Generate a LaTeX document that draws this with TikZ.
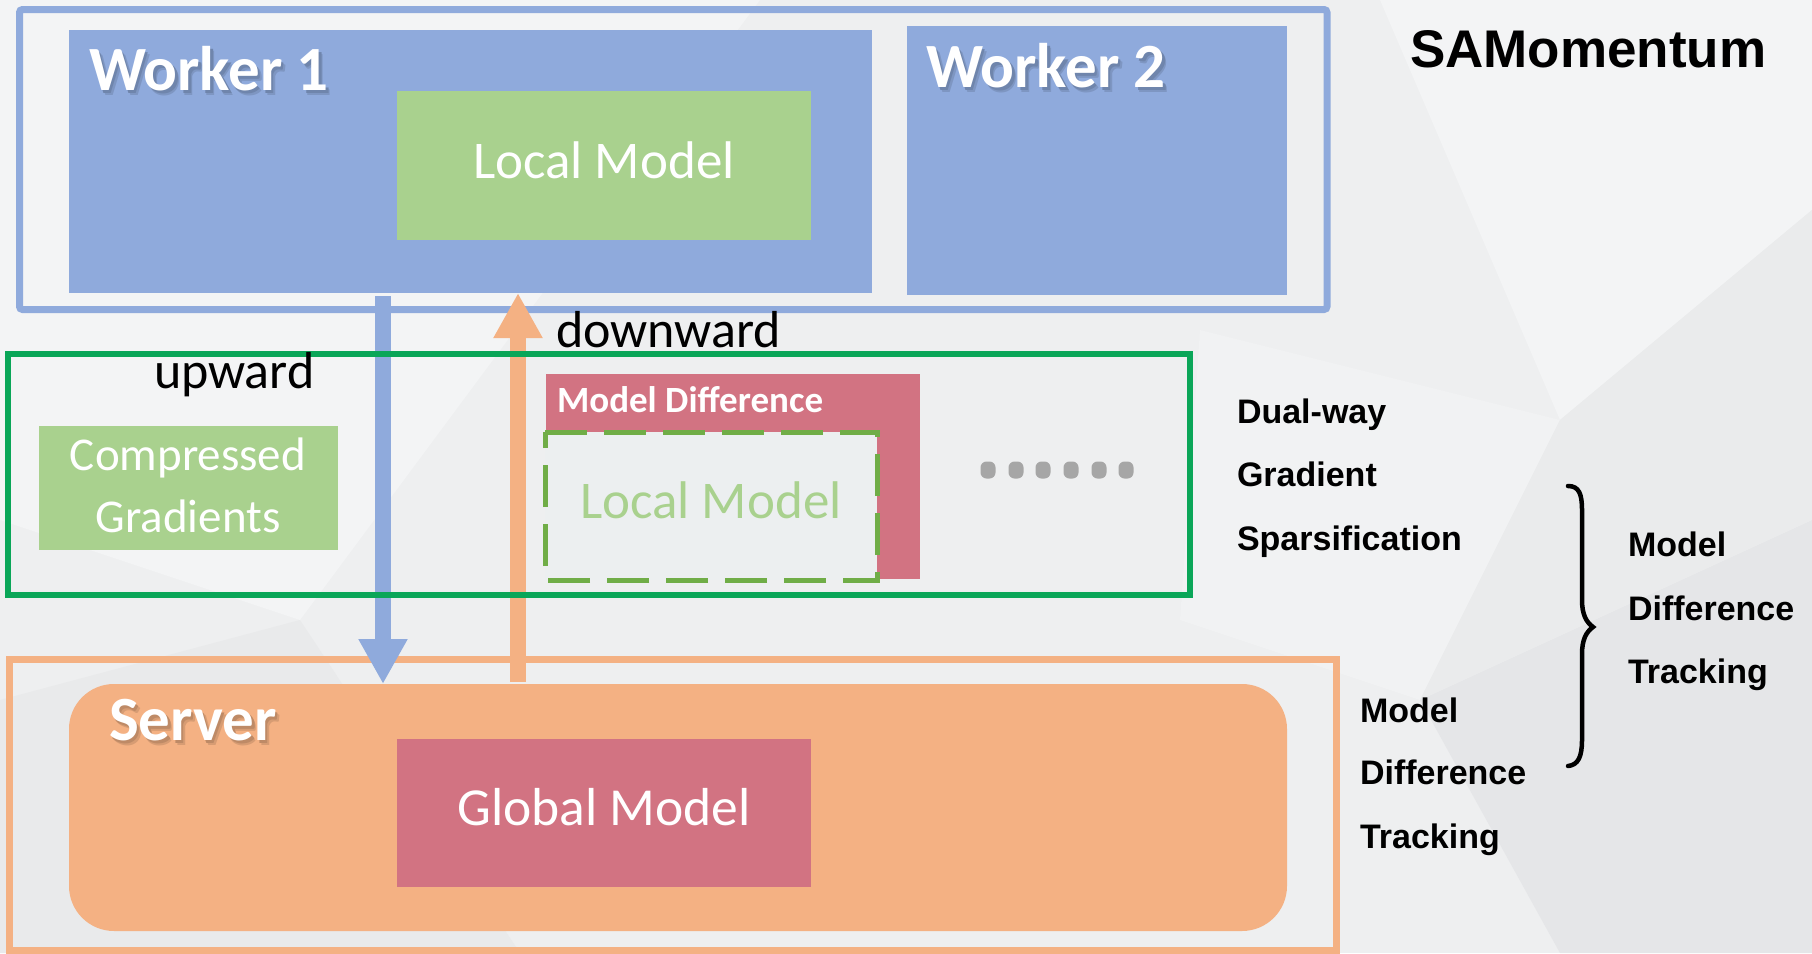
\documentclass[tikz,border=0pt]{standalone}
\usepackage{fontspec}
\setmainfont{Carlito}
\newfontfamily\arialfont{Liberation Sans}
\usetikzlibrary{arrows.meta}

\definecolor{wblue}{RGB}{143,170,220}
\definecolor{lgreen}{RGB}{169,209,142}
\definecolor{sorange}{RGB}{244,177,131}
\definecolor{mred}{RGB}{210,115,130}
\definecolor{fgreen}{RGB}{10,166,88}
\definecolor{dgreen}{RGB}{112,173,71}
\definecolor{dotgray}{RGB}{166,166,166}
\definecolor{bggray}{RGB}{238,239,240}
\definecolor{bglight}{RGB}{243,244,245}
\definecolor{bgdark}{RGB}{229,230,232}
\definecolor{boxgray}{RGB}{236,239,240}

\newcommand\setfs[1]{\fontsize{#1}{#1}\selectfont}
% title text with a soft drop shadow set behind it in the given colour
\newcommand\shadowed[2]{%
  \rlap{\kern4pt\raisebox{-5pt}{\color{#1!88!black}#2}}%
  \rlap{\kern2.5pt\raisebox{-3pt}{\color{#1!78!black}#2}}%
  #2}

\tikzset{
  box/.style={rectangle, inner sep=0pt, outer sep=0pt, anchor=north west},
  lbl/.style={inner sep=0pt, outer sep=0pt, anchor=base west},
  clbl/.style={inner sep=0pt, outer sep=0pt, anchor=base},
  headline/.style={lbl, text=white, font=\setfs{63}\bfseries},
  boxtext/.style={clbl, text=white, font=\setfs{53}},
  flowlbl/.style={lbl, text=black, font=\setfs{52}},
  sidelbl/.style={lbl, text=black, font=\arialfont\setfs{34}\bfseries},
  dotcap/.style={rectangle, fill=dotgray, minimum width=15pt, minimum height=17pt,
                 rounded corners=6pt, inner sep=0pt},
  flowarrow/.style={line width=16pt, -{Triangle[width=46pt, length=45pt]}},
}

\begin{document}
\begin{tikzpicture}[x=1pt, y=-1pt]
\useasboundingbox (0,0) rectangle (1812,953);

% soft low-poly backdrop
\fill[bggray] (0,0) rectangle (1812,953);
\fill[bglight] (0,0) -- (760,0) -- (300,620) -- (0,520) -- cycle;
\fill[bglight] (1380,0) -- (1812,0) -- (1812,210) -- (1560,420) -- cycle;
\fill[bglight!60!bggray] (1200,330) -- (1560,420) -- (1420,700) -- (1180,620) -- cycle;
\fill[bgdark] (1420,700) -- (1812,520) -- (1812,953) -- (1560,953) -- cycle;
\fill[bgdark!50!bggray] (1560,420) -- (1812,210) -- (1812,520) -- (1420,700) -- cycle;
\fill[bgdark!60!bggray] (0,700) -- (300,620) -- (520,953) -- (0,953) -- cycle;

% server side
\node[box, draw=sorange, line width=7pt, minimum width=1326.5pt, minimum height=291pt]
  (sframe) at (9.5,659) {};
\node[box, fill=sorange, rounded corners=45pt, minimum width=1218pt, minimum height=247pt]
  (srv) at (69,684) {};
\node[box, fill=mred, minimum width=414pt, minimum height=148pt] (gm) at (397,739) {};

% worker side
\node[box, draw=wblue, line width=7pt, rounded corners=3pt, minimum width=1307.5pt,
  minimum height=300pt] (wframe) at (19.5,9.5) {};
\node[box, fill=wblue, minimum width=803pt, minimum height=263pt] (w1) at (69,30) {};
\node[box, fill=wblue, minimum width=380pt, minimum height=269pt] (w2) at (907,26) {};
\node[box, fill=lgreen, minimum width=414pt, minimum height=149pt] (lm) at (397,91) {};

% upward / downward transfers
\coordinate (upx) at (383,0);
\coordinate (downx) at (518,0);
\draw[flowarrow, wblue, shorten <=3pt] (w1.south -| upx) -- (srv.north -| upx);
\draw[flowarrow, sorange, shorten <=2pt] (srv.north -| downx) -- (w1.south -| downx);

% dual-way compression stage
\node[box, draw=fgreen, line width=6pt, minimum width=1181.5pt, minimum height=241pt]
  (gframe) at (8,353.5) {};
\node[box, fill=lgreen, minimum width=299pt, minimum height=124pt] (cg) at (39,426) {};
\node[box, fill=mred, minimum width=374pt, minimum height=205pt] (md) at (546,374) {};
\node[box, fill=boxgray, minimum width=332pt, minimum height=148pt] (lmc) at (545,432) {};
\draw[dgreen, line width=5pt, dash pattern=on 42pt off 17pt]
  (lmc.north west) -- (lmc.north east) -- (lmc.south east) -- (lmc.south west) -- cycle;
\foreach \i/\xx in {0/988,1/1016,2/1043,3/1071,4/1099,5/1126}
  \node[dotcap] (dot\i) at (\xx,470) {};

% box titles
\node[headline] (w1t) at (89,90) {\shadowed{wblue}{Worker 1}};
\node[headline] (w2t) at (926,87) {\shadowed{wblue}{Worker 2}};
\node[headline] (svt) at (109,740) {\shadowed{sorange}{Server}};

\node[boxtext] (lmt) at (604,178) {Local Model};
\node[boxtext, font=\setfs{53.5}] (gmt) at (604,825) {Global Model};
\node[clbl, text=white, font=\setfs{47}] (cgt1) at (188,470) {Compressed};
\node[clbl, text=white, font=\setfs{47}] (cgt2) at (188,532) {Gradients};
\node[lbl, text=white, font=\setfs{37}\bfseries] (mdt) at (557,412) {Model Difference};
\node[clbl, text=lgreen, font=\setfs{53}] (lmct) at (711,518) {Local Model};

\node[flowlbl] (upt) at (154,388) {upward};
\node[flowlbl] (downt) at (556,347) {downward};

% method names
\node[lbl, text=black, font=\arialfont\setfs{53}\bfseries] (title) at (1410,67) {SAMomentum};
\node[sidelbl] (dg1) at (1237,423) {Dual-way};
\node[sidelbl] (dg2) at (1237,486) {Gradient};
\node[sidelbl] (dg3) at (1237,550) {Sparsification};
\node[sidelbl] (mt1) at (1360,722) {Model};
\node[sidelbl] (mt2) at (1360,784) {Difference};
\node[sidelbl] (mt3) at (1360,848) {Tracking};
\node[sidelbl] (cm1) at (1628,556) {Model};
\node[sidelbl] (cm2) at (1628,620) {Difference};
\node[sidelbl] (cm3) at (1628,683) {Tracking};

% brace joining the two parts
\draw[black, line width=4.5pt, line cap=round]
  (1568,486) .. controls (1579,486) and (1582,494) .. (1582,510)
  -- (1582,600) .. controls (1582,614) and (1586,622) .. (1593,627)
  .. controls (1586,632) and (1582,640) .. (1582,654)
  -- (1582,740) .. controls (1582,757) and (1578,765) .. (1568,766);
\end{tikzpicture}
\end{document}
